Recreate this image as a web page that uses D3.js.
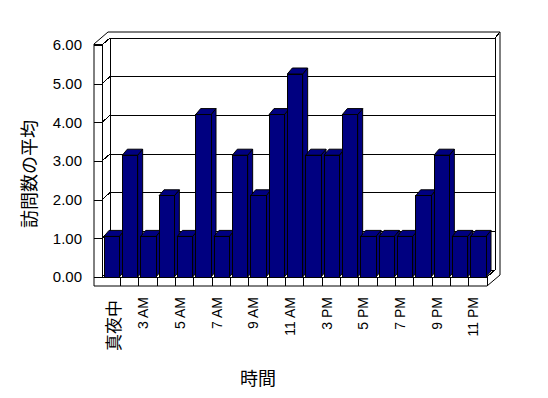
<!DOCTYPE html>
<html>
<head>
<meta charset="utf-8">
<script src="https://cdn.jsdelivr.net/npm/d3@7"></script>
<style>
  body { margin: 0; background: #fff; }
  svg { display: block; }
  .frame line, .frame polygon { stroke: #000; stroke-width: 1; }
</style>
</head>
<body>
<div id="chart"></div>
<script>
// data
var categories = ["真夜中", "1 AM", "3 AM", "4 AM", "5 AM", "6 AM", "7 AM", "8 AM", "9 AM", "10 AM", "11 AM",
  "1 PM", "3 PM", "4 PM", "5 PM", "6 PM", "7 PM", "8 PM", "9 PM", "10 PM", "11 PM"];
var values = [1.05, 3.15, 1.05, 2.1, 1.05, 4.2, 1.05, 3.15, 2.1, 4.2, 5.25,
  3.15, 3.15, 4.2, 1.05, 1.05, 1.05, 2.1, 3.15, 1.05, 1.05];
var yTicks = [0, 1, 2, 3, 4, 5, 6];
var xTitle = "時間",
  yTitle = "訪問数の平均";

var width = 548,
  height = 398;

// front plane of the floor, depth of the walls, depth of a bar
var left = 94,
  floorBottom = 286,
  dx = 8, dy = -7,
  bdx = 5, bdy = -6;

var x = d3.scaleBand()
  .domain(categories)
  .range([102, 487]);

var y = d3.scaleLinear()
  .domain([0, 6])
  .range([277, 45]);

var x0 = x.range()[0], x1 = x.range()[1], y0 = y(0), yTop = y(6);

var svg = d3.select("#chart").append("svg")
  .attr("width", width)
  .attr("height", height)
  .style("font-family", "'Liberation Sans', Arial, sans-serif");

var frame = svg.append("g").attr("class", "frame")
  .attr("shape-rendering", "crispEdges");

// outer outline of walls and floor
frame.append("polygon")
  .attr("points", [[left, floorBottom], [left, yTop - 1], [x0 + 6, yTop - 13], [x1 + dx + 5, yTop - 13],
    [x1 + dx + 5, y0 - 2], [x1, floorBottom]].join(" "))
  .attr("fill", "#fff")
  .attr("shape-rendering", "auto");

var seg = function (a, b) {
  frame.append("line")
    .attr("x1", a[0]).attr("y1", a[1])
    .attr("x2", b[0]).attr("y2", b[1]);
};

// left wall
seg([left, yTop - 1], [x0, yTop - 1]);
seg([x0, yTop - 1], [x0, y0]);
// back wall edges
seg([x0 + dx, yTop + dy], [x0 + dx, y0 + dy]);
seg([x1 + dx, yTop + dy], [x1 + dx, y0 + dy]);
seg([x1 + dx, yTop + dy], [x1 + dx + 5, yTop - 13]);
// floor
seg([left, y0], [x1, y0]);
seg([x1, y0], [x1, floorBottom]);
seg([x1, y0], [x1 + dx, y0 + dy]);

// gridlines on the left and back walls
yTicks.forEach(function (v) {
  seg([x0, y(v)], [x0 + dx, y(v) + dy]);
  seg([x0 + dx, y(v) + dy], [x1 + dx, y(v) + dy]);
});

// dividers on the floor front
categories.forEach(function (c, i) {
  if (i > 0) seg([x(c), y0], [x(c), floorBottom]);
});

// y axis: ticks across the left wall front
var yAxis = d3.axisLeft(y)
  .tickValues(yTicks)
  .tickFormat(d3.format(".2f"))
  .tickSize(x0 - left)
  .tickPadding(12);

var gy = svg.append("g")
  .attr("transform", "translate(" + x0 + ",0)")
  .call(yAxis);
gy.select(".domain").remove();
gy.selectAll("line").attr("stroke", "#000").attr("shape-rendering", "crispEdges");
gy.selectAll("text")
  .attr("fill", "#000")
  .style("font-size", "15px")
  .style("font-family", "'Liberation Sans', Arial, sans-serif");

// bars
var bars = svg.selectAll(".bar")
  .data(values)
  .enter().append("g")
  .attr("class", "bar")
  .attr("stroke", "#000")
  .attr("fill", "#000080");

bars.each(function (v, i) {
  var g = d3.select(this),
    xl = x(categories[i]) + 2,
    xr = x(categories[i]) + x.bandwidth() - 1,
    yt = y(v);
  g.append("polygon")
    .attr("points", [[xr, yt], [xr + bdx, yt + bdy], [xr + bdx, y0 + bdy], [xr, y0]].join(" "));
  g.append("polygon")
    .attr("points", [[xl, yt], [xl + bdx, yt + bdy], [xr + bdx, yt + bdy], [xr, yt]].join(" "));
  g.append("rect")
    .attr("x", xl)
    .attr("y", yt)
    .attr("width", xr - xl)
    .attr("height", y0 - yt)
    .attr("shape-rendering", "crispEdges");
});

// x axis: every other category, rotated
var isCJK = function (s) { return /[\u3000-\u9fff]/.test(s); };

var xAxis = d3.axisBottom(x)
  .tickValues(categories.filter(function (d, i) { return i % 2 === 0; }))
  .tickSize(0);

var gx = svg.append("g")
  .attr("transform", "translate(0,297)")
  .call(xAxis);
gx.select(".domain").remove();
gx.selectAll("text")
  .attr("x", 0)
  .attr("y", 0)
  .attr("dy", function (d) { return isCJK(d) ? "0" : "0.04em"; })
  .attr("dominant-baseline", function (d) { return isCJK(d) ? "central" : null; })
  .attr("transform", function (d) { return isCJK(d) ? "translate(1,3) rotate(-90)" : "rotate(-90)"; })
  .attr("fill", "#000")
  .style("text-anchor", "end")
  .style("font-size", function (d) { return isCJK(d) ? "17px" : "14px"; })
  .style("font-family", function (d) {
    return isCJK(d) ? "'Noto Sans CJK JP', sans-serif" : "'Liberation Sans', Arial, sans-serif";
  });

// axis titles
svg.append("text")
  .attr("x", 258)
  .attr("y", 377)
  .attr("dominant-baseline", "central")
  .style("text-anchor", "middle")
  .style("font-size", "18px")
  .style("font-family", "'Noto Sans CJK JP', sans-serif")
  .text(xTitle);

svg.append("text")
  .attr("transform", "translate(28,174) rotate(-90)")
  .attr("dominant-baseline", "central")
  .style("text-anchor", "middle")
  .style("font-size", "18px")
  .style("font-family", "'Noto Sans CJK JP', sans-serif")
  .text(yTitle);
</script>
</body>
</html>
